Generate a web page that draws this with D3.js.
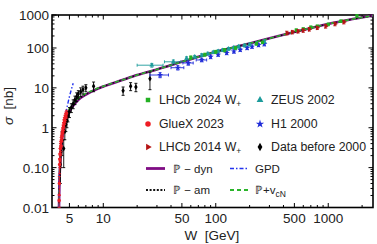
<!DOCTYPE html>
<html>
<head>
<meta charset="utf-8">
<script src="https://cdn.jsdelivr.net/npm/d3@7"></script>
<style>
body { margin: 0; background: #fff; }
text { font-family: "Liberation Sans", Arial, sans-serif; fill: #222; }
</style>
</head>
<body>
<svg width="377" height="244"></svg>
<script>
// data: [W (GeV), sigma (nb), sigma error, W half-width]
const gluex2023 = [[4.05,0.015,0.006],[4.07,0.04,0.02],[4.09,0.12,0.05],[4.11,0.16,0.06],[4.13,0.22,0.08],
  [4.16,0.3,0.1],[4.19,0.35,0.1],[4.22,0.45,0.12],[4.25,0.5,0.15],[4.28,0.6,0.15],[4.31,0.7,0.18],
  [4.35,0.8,0.2],[4.39,0.95,0.22],[4.43,1.1,0.25],[4.47,1.3,0.3],[4.51,1.5,0.3],[4.56,1.7,0.35],
  [4.61,1.9,0.4],[4.66,2.1,0.4],[4.71,2.3,0.45]]
const before2000 = [[4.15,0.12,0.08],[4.2,0.25,0.15],[4.3,0.5,0.3],[4.45,0.3,0.2],[4.55,0.8,0.3],
  [4.65,1.2,0.4],[4.75,1.5,0.5],[4.85,2.0,0.6],[5.0,2.5,0.7],[5.2,3.2,0.8],[5.4,4,1],[5.6,5,1.2],
  [5.8,6,1.5],[6.0,7,1.5],[6.3,8,2],[6.6,9,2],[7.0,10,2],[8.2,11,3],[15,8.5,2],[17.5,11,2.5],
  [19.5,10.5,2.5],[26,17,8]]
const h12000 = [[32,21,3,6],[46,32,4,6],[57,42,5,6],[75,50,5,8],[90,60,6],[105,68,6],[125,75,7],
  [145,82,8],[165,90,8],[190,100,9],[210,108,10],[240,118,10],[270,125,12]]
const zeus2002 = [[27,37,4,7],[42,45,5,7],[55,55,5],[65,60,5],[75,66,6],[85,72,6],[95,78,6],
  [105,83,7],[115,88,7],[130,95,8],[145,102,8],[160,108,9],[180,115,9],[200,122,10],[230,130,10],[270,145,12]]
const lhcb2024 = [[60,58,5],[80,68,6],[100,80,7],[120,88,8],[150,100,8],[230,128,10],[260,138,10],
  [520,280,20],[600,300,20],[700,330,25],[800,350,25],[1000,390,30],[1300,470,35],[1800,640,50]]
const lhcb2014 = [[430,237,25],[480,250,25],[540,262,25],[600,275,28],[680,295,30],[800,320,30],
  [950,350,35],[1150,400,40],[1380,447,45]]

// model curves: [W, sigma]
const pomDyn = [[4.04,0.01],[4.08,0.05],[4.12,0.1],[4.2,0.25],[4.3,0.5],[4.45,1.0],[4.7,1.7],
  [5.0,2.6],[5.5,3.8],[6,5],[7,6.8],[8,8.3],[10,10.8],[15,16],[20,21],[30,29],[50,45],[100,80],
  [200,130],[500,250],[1000,400],[2500,650]]
const pomAm = [[4.04,0.01],[4.08,0.05],[4.12,0.1],[4.2,0.26],[4.3,0.52],[4.45,1.0],[4.7,1.75],
  [5.0,2.7],[5.5,3.9],[6,5.1],[7,6.9],[8,8.3],[10,10.8],[15,16],[20,21],[30,29],[50,45],[100,80],
  [200,130],[500,250],[1000,400],[2500,650]]
const pomVcn = [[4.04,0.01],[4.08,0.06],[4.12,0.12],[4.2,0.3],[4.3,0.6],[4.45,1.15],[4.7,2.0],
  [5.0,3.0],[5.5,4.3],[6,5.5],[7,7.2],[8,8.6],[10,11],[15,16],[20,21],[30,29],[50,45],[100,80],
  [200,130],[500,250],[1000,400],[2500,650]]
const gpd = [[4.04,0.01],[4.1,0.1],[4.3,0.6],[4.6,2],[5.0,6],[5.4,13]]

const xTickLabels = [5, 10, 50, 100, 500, 1000]
const yTickLabels = [0.01, 0.1, 1, 10, 100, 1000]

var svg = d3.select('svg')
var margin = { top: 15, bottom: 36.5, left: 52, right: 4 }
var width = 377, height = 244

var xScale = d3.scaleLog().domain([3.5, 2500]).range([margin.left, width - margin.right])
var yScale = d3.scaleLog().domain([0.01, 671]).range([height - margin.bottom, margin.top]).clamp(true)

var x0 = margin.left, x1 = width - margin.right
var y0 = height - margin.bottom, y1 = margin.top

// minor ticks
var xMinor = []
for (let d = 1; d <= 1000; d *= 10) for (let k = 1; k < 10; k++) {
  let v = k * d
  if (v > 3.5 && v < 2500 && xTickLabels.indexOf(v) < 0) xMinor.push(v)
}
var yMinor = []
for (let d = 0.01; d < 1000; d *= 10) for (let k = 2; k < 10; k++) {
  let v = k * d
  if (v < 671) yMinor.push(v)
}

var axes = svg.append('g')
// bottom + top ticks
xTickLabels.forEach(function(v) {
  axes.append('line').attr('x1', xScale(v)).attr('x2', xScale(v)).attr('y1', y0).attr('y2', y0 - 4.5)
  axes.append('line').attr('x1', xScale(v)).attr('x2', xScale(v)).attr('y1', y1).attr('y2', y1 + 4.5)
})
xMinor.forEach(function(v) {
  axes.append('line').attr('x1', xScale(v)).attr('x2', xScale(v)).attr('y1', y0).attr('y2', y0 - 2.5)
  axes.append('line').attr('x1', xScale(v)).attr('x2', xScale(v)).attr('y1', y1).attr('y2', y1 + 2.5)
})
yTickLabels.forEach(function(v) {
  axes.append('line').attr('x1', x0).attr('x2', x0 + 4.5).attr('y1', yScale(v)).attr('y2', yScale(v))
  axes.append('line').attr('x1', x1).attr('x2', x1 - 4.5).attr('y1', yScale(v)).attr('y2', yScale(v))
})
yMinor.forEach(function(v) {
  axes.append('line').attr('x1', x0).attr('x2', x0 + 2.5).attr('y1', yScale(v)).attr('y2', yScale(v))
  axes.append('line').attr('x1', x1).attr('x2', x1 - 2.5).attr('y1', yScale(v)).attr('y2', yScale(v))
})
axes.selectAll('line').attr('stroke', '#000').attr('stroke-width', 1)

svg.append('rect').attr('x', x0).attr('y', y1).attr('width', x1 - x0).attr('height', y0 - y1)
  .attr('fill', 'none').attr('stroke', '#000').attr('stroke-width', 1.6)

// tick labels
svg.append('g').selectAll('text').data(xTickLabels).enter().append('text')
  .attr('x', d => xScale(d)).attr('y', y0 + 15.5)
  .attr('text-anchor', 'middle').attr('font-size', 13.5).text(d => d)
svg.append('g').selectAll('text').data(yTickLabels).enter().append('text')
  .attr('x', x0 - 3).attr('y', d => yScale(d) + 5)
  .attr('text-anchor', 'end').attr('font-size', 13.5)
  .text(d => d === 0.1 ? '0.10' : d)

svg.append('text').attr('x', 212).attr('y', 240).attr('text-anchor', 'middle')
  .attr('font-size', 13.5).attr('xml:space', 'preserve').text('W  [GeV]')
svg.append('text').attr('transform', 'translate(13,106) rotate(-90)').attr('text-anchor', 'middle')
  .attr('font-size', 13.5).attr('xml:space', 'preserve')
  .html('<tspan font-style="italic">σ</tspan>  [nb]')

// curves
var plot = svg.append('g')
var line = d3.line().x(d => xScale(d[0])).y(d => yScale(d[1])).curve(d3.curveMonotoneX)
plot.append('path').datum(pomDyn).attr('d', line).attr('fill', 'none')
  .attr('stroke', '#7f0d84').attr('stroke-width', 2.6)
plot.append('path').datum(pomAm).attr('d', line).attr('fill', 'none')
  .attr('stroke', '#111').attr('stroke-width', 1.4).attr('stroke-dasharray', '1.5,2')
plot.append('path').datum(pomVcn).attr('d', line).attr('fill', 'none')
  .attr('stroke', '#2bb52b').attr('stroke-width', 1.6).attr('stroke-dasharray', '4,3')
plot.append('path').datum(gpd).attr('d', line).attr('fill', 'none')
  .attr('stroke', '#2233ee').attr('stroke-width', 1.4).attr('stroke-dasharray', '4,2,1.5,2')

// data points with error bars
function drawSet(data, color, symbol, size, rot) {
  var g = plot.append('g')
  data.forEach(function(d) {
    var cx = xScale(d[0]), cy = yScale(d[1])
    var lo = yScale(Math.max(d[1] - d[2], 0.0101)), hi = yScale(d[1] + d[2])
    g.append('line').attr('x1', cx).attr('x2', cx).attr('y1', lo).attr('y2', hi)
    g.append('line').attr('x1', cx - 1.5).attr('x2', cx + 1.5).attr('y1', lo).attr('y2', lo)
    g.append('line').attr('x1', cx - 1.5).attr('x2', cx + 1.5).attr('y1', hi).attr('y2', hi)
    if (d[3]) {
      var xl = xScale(d[0] - d[3]), xr = xScale(d[0] + d[3])
      g.append('line').attr('x1', xl).attr('x2', xr).attr('y1', cy).attr('y2', cy)
      g.append('line').attr('x1', xl).attr('x2', xl).attr('y1', cy - 1.5).attr('y2', cy + 1.5)
      g.append('line').attr('x1', xr).attr('x2', xr).attr('y1', cy - 1.5).attr('y2', cy + 1.5)
    }
  })
  g.selectAll('line').attr('stroke', color).attr('stroke-width', 0.9)
  g.selectAll('path').data(data).enter().append('path')
    .attr('d', d3.symbol().type(symbol).size(size))
    .attr('transform', d => 'translate(' + xScale(d[0]) + ',' + yScale(d[1]) + ') rotate(' + (rot || 0) + ')')
    .attr('fill', color)
}
drawSet(before2000, '#000', d3.symbolDiamond, 10)
drawSet(h12000, '#1f2bd8', d3.symbolStar, 12)
drawSet(zeus2002, '#1c9b9b', d3.symbolTriangle, 10)
drawSet(lhcb2024, '#23b023', d3.symbolSquare, 10)
drawSet(lhcb2014, '#b51414', d3.symbolTriangle, 10, 90)
drawSet(gluex2023, '#ee1c24', d3.symbolCircle, 10)

// legend
var legendMarks = [
  { label: 'LHCb 2024 W', sub: '+', col: 0, row: 0, color: '#23b023', symbol: d3.symbolSquare, size: 20 },
  { label: 'GlueX 2023', col: 0, row: 1, color: '#ee1c24', symbol: d3.symbolCircle, size: 24 },
  { label: 'LHCb 2014 W', sub: '+', col: 0, row: 2, color: '#b51414', symbol: d3.symbolTriangle, size: 18, rot: 90 },
  { label: 'ZEUS 2002', col: 1, row: 0, color: '#1c9b9b', symbol: d3.symbolTriangle, size: 20 },
  { label: 'H1 2000', col: 1, row: 1, color: '#1f2bd8', symbol: d3.symbolStar, size: 22 },
  { label: 'Data before 2000', col: 1, row: 2, color: '#000', symbol: d3.symbolDiamond, size: 20 }
]
var legendLines = [
  { label: 'ℙ − dyn', col: 0, row: 3, color: '#7f0d84', w: 2.8, dash: null },
  { label: 'ℙ − am', col: 0, row: 4, color: '#111', w: 1.8, dash: '2,1.6' },
  { label: 'GPD', col: 1, row: 3, color: '#2233ee', w: 1.6, dash: '4,2,1.5,2' },
  { label: 'ℙ+v', sub: 'cN', col: 1, row: 4, color: '#2bb52b', w: 2, dash: '4,3' }
]
var rowY = [100, 124, 147, 168.5, 190]
var legend = svg.append('g')
legendMarks.forEach(function(m) {
  var mx = m.col ? 260 : 148
  legend.append('path').attr('d', d3.symbol().type(m.symbol).size(m.size)())
    .attr('transform', 'translate(' + mx + ',' + rowY[m.row] + ') rotate(' + (m.rot || 0) + ')')
    .attr('fill', m.color)
  var t = legend.append('text').attr('x', mx + 11).attr('y', rowY[m.row] + 4.3).attr('font-size', 12.3).text(m.label)
  if (m.sub) t.append('tspan').attr('font-size', 8.5).attr('dy', 2.5).text(m.sub)
})
legendLines.forEach(function(m) {
  var lx = m.col ? 230 : 146
  legend.append('line').attr('x1', lx).attr('x2', lx + 19).attr('y1', rowY[m.row]).attr('y2', rowY[m.row])
    .attr('stroke', m.color).attr('stroke-width', m.w).attr('stroke-dasharray', m.dash)
  var t = legend.append('text').attr('x', m.col ? 255 : 173).attr('y', rowY[m.row] + 4.3)
    .attr('font-family', '"DejaVu Sans", sans-serif').attr('font-size', 11.5).text(m.label)
  if (m.sub) t.append('tspan').attr('font-size', 8.5).attr('dy', 2.5).text(m.sub)
})
</script>
</body>
</html>
